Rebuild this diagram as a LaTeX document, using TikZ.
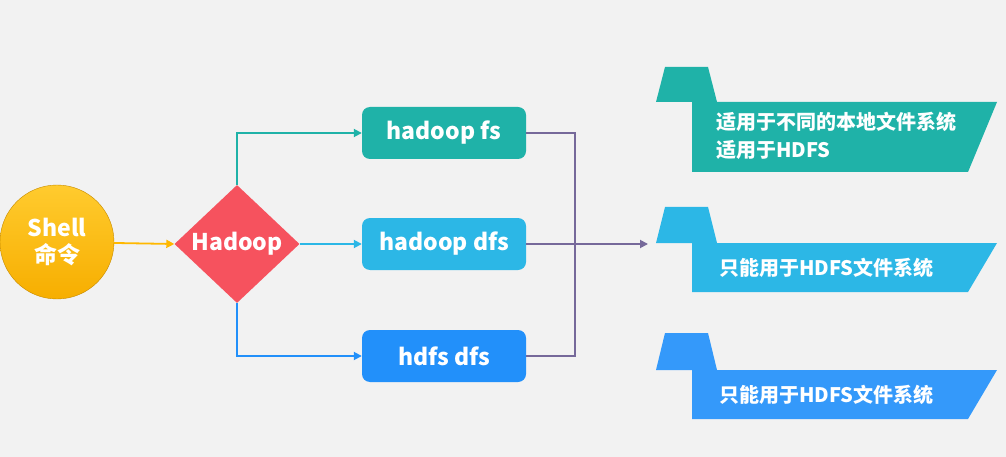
\documentclass[tikz,border=0pt]{standalone}
\usepackage{fontspec}
\setmainfont{Noto Sans CJK SC}
\usetikzlibrary{shapes.geometric,arrows.meta}
\definecolor{PageGray}{HTML}{F2F2F2}
\definecolor{ShellTop}{HTML}{FFCB2E}
\definecolor{ShellBot}{HTML}{F7AE00}
\definecolor{ShellLine}{HTML}{FFB800}
\definecolor{HadoopRed}{HTML}{F6525E}
\definecolor{FsTeal}{HTML}{1FB2A8}
\definecolor{DfsCyan}{HTML}{2CB7E6}
\definecolor{HdfsBlue}{HTML}{2290FA}
\definecolor{JoinPurple}{HTML}{76699A}
\tikzset{
  cmd/.style={rectangle,rounded corners=8pt,minimum width=164pt,minimum height=52pt,
    text=white,font=\fontsize{23}{26}\selectfont\bfseries},
  note/.style={anchor=west,text=white,align=left,inner sep=0pt,
    font=\fontsize{20}{28}\selectfont\bfseries},
  link/.style={line width=1.8pt}
}
\begin{document}
\begin{tikzpicture}[x=1pt,y=-1pt,>={Triangle[length=8pt,width=8pt]}]
	\fill[PageGray] (0,0) rectangle (1006,457);
	\useasboundingbox (0,0) rectangle (1006,457);
	% shell and hadoop
	\node[circle,minimum size=114pt,top color=ShellTop,bottom color=ShellBot,
	  draw=ShellBot!80!black,line width=.4pt,text=white,align=center,
	  font=\fontsize{23}{27}\selectfont\bfseries] (shell) at (57,242) {Shell\\命令};
	\node[diamond,fill=HadoopRed,minimum width=125pt,minimum height=118pt,inner sep=0pt,
	  text=white,font=\fontsize{23}{26}\selectfont\bfseries] (hadoop) at (237,244) {Hadoop};
	% commands
	\node[cmd,fill=FsTeal] (fs) at (444,133) {hadoop fs};
	\node[cmd,fill=DfsCyan] (dfs) at (444,244) {hadoop dfs};
	\node[cmd,fill=HdfsBlue] (hdfs) at (444,356) {hdfs dfs};
	\draw[link,->,ShellLine] (shell) -- (hadoop.west);
	\draw[link,->,FsTeal] (hadoop.north) |- (fs.west);
	\draw[link,->,DfsCyan] (hadoop.east) -- (dfs.west);
	\draw[link,->,HdfsBlue] (hadoop.south) |- (hdfs.west);
	\coordinate (join) at (575,244);
	\coordinate (target) at (648,244);
	\draw[link,JoinPurple] (fs.east) -| (join) |- (hdfs.east);
	\draw[link,->,JoinPurple] (dfs.east) -- (target);
	% banners
	\fill[FsTeal] (665,67) -- (708,67) -- (717,102) -- (997,102) -- (968,172) -- (692,172) -- (692,102) -- (656,102) -- cycle;
	\fill[DfsCyan] (665,207) -- (708,207) -- (717,243) -- (997,243) -- (968,292) -- (692,292) -- (692,243) -- (656,243) -- cycle;
	\fill[HdfsBlue!92!white] (665,333) -- (708,333) -- (717,370) -- (997,370) -- (968,419) -- (692,419) -- (692,370) -- (656,370) -- cycle;
	\node[note] (fsnote) at (716,136) {适用于不同的本地文件系统\\适用于HDFS};
	\node[note] (dfsnote) at (719,268) {只能用于HDFS文件系统};
	\node[note] (hdfsnote) at (719,395) {只能用于HDFS文件系统};
\end{tikzpicture}
\end{document}
